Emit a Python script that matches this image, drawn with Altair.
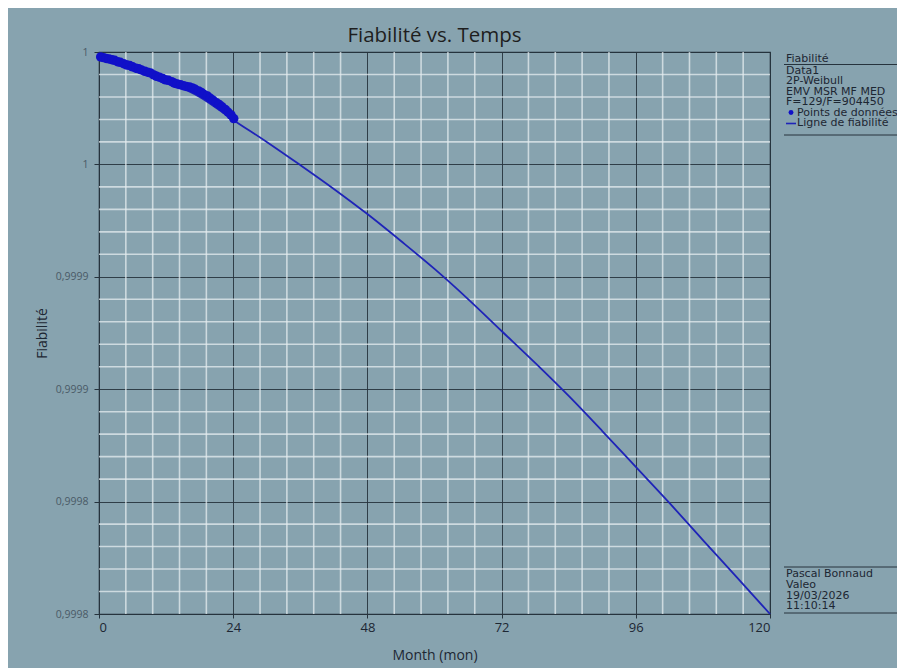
import altair as alt
import pandas as pd

# ---------------- data ----------------
# data points: time (months) and unreliability in ppm
pts_t = [0.3, 0.8, 1.3, 1.8, 2.3, 2.8, 3.3, 3.8, 4.4, 5.0, 5.5, 6.0, 6.6, 7.1, 7.6, 8.2,
         8.7, 9.2, 9.8, 10.3, 10.8, 11.4, 11.9, 12.4, 13.0, 13.5, 14.0, 14.6, 15.1, 15.6,
         16.2, 16.7, 17.2, 17.8, 18.3, 18.8, 19.4, 19.9, 20.4, 21.0, 21.5, 22.0, 22.6,
         23.1, 23.6, 24.1]
pts_ppm = [2.2, 2.5, 2.9, 3.1, 3.4, 3.7, 4.3, 4.6, 5.2, 5.8, 6.0, 6.6, 7.2, 7.5, 8.0, 8.6,
           9.0, 9.3, 10.2, 10.8, 11.2, 11.8, 12.4, 12.6, 13.2, 13.9, 14.2, 14.6, 15.0, 15.3,
           15.6, 16.0, 16.6, 17.3, 18.0, 18.9, 19.6, 20.6, 21.5, 22.6, 23.4, 24.4, 25.6,
           26.8, 28.0, 29.6]

# reliability line: time (months) and unreliability in ppm
line_t = [0, 6, 12, 18, 24, 30, 36, 42, 48, 54, 60, 66, 72, 78, 84, 90, 96, 102, 108, 114, 120]
line_ppm = [2.2, 6.8, 12.8, 20.0, 30.2, 40.0, 50.3, 60.9, 72.1, 84.1, 96.5, 109.9, 124.1,
            138.3, 153.0, 168.6, 184.6, 200.6, 217.1, 233.5, 250.0]

x_major = [0, 24, 48, 72, 96, 120]
x_minor = [4.8, 9.6, 14.4, 19.2, 28.8, 33.6, 38.4, 43.2, 52.8, 57.6, 62.4, 67.2,
           76.8, 81.6, 86.4, 91.2, 100.8, 105.6, 110.4, 115.2]
y_major = [1.0, 0.99995, 0.9999, 0.99985, 0.9998, 0.99975]
y_minor = [0.99999, 0.99998, 0.99997, 0.99996, 0.99994, 0.99993, 0.99992, 0.99991,
           0.99989, 0.99988, 0.99987, 0.99986, 0.99984, 0.99983, 0.99982, 0.99981,
           0.99979, 0.99978, 0.99977, 0.99976]

legend_lines = ["Data1", "2P-Weibull", "EMV MSR MF MED", "F=129/F=904450"]
footer_lines = ["Pascal Bonnaud", "Valeo", "19/03/2026", "11:10:14"]

pts = pd.DataFrame({"t": pts_t, "R": [1 - v / 1e6 for v in pts_ppm]})
line = pd.DataFrame({"t": line_t, "R": [1 - v / 1e6 for v in line_ppm]})

BG = "#87a3af"
DARK = "#26333d"
TXT = "#1d2733"
FONT = "Open Sans"
LFONT = "DejaVu Sans"

xs = alt.Scale(domain=[0, 120], nice=False, zero=False)
ys = alt.Scale(domain=[0.99975, 1.0], nice=False, zero=False)

vminor = alt.Chart(pd.DataFrame({"t": x_minor})).mark_rule(
    color="#e4ecef", strokeWidth=1.6, opacity=0.75
).encode(x=alt.X("t:Q", scale=xs))

hminor = alt.Chart(pd.DataFrame({"R": y_minor})).mark_rule(
    color="#e4ecef", strokeWidth=1.6, opacity=0.75
).encode(y=alt.Y("R:Q", scale=ys))

base_line = alt.Chart(line).mark_line(color="#1f24b8", strokeWidth=1.8,
                                      interpolate="monotone").encode(
    x=alt.X("t:Q", scale=xs,
            axis=alt.Axis(values=x_major, title="Month (mon)", grid=True,
                          gridColor=DARK, gridWidth=1, gridOpacity=0.9,
                          labelFontSize=13, labelFont=FONT, labelColor=TXT,
                          titleFontSize=14, titleFont=FONT, titleColor=TXT,
                          titleFontWeight="normal", labelPadding=3, titlePadding=14,
                          tickSize=4, tickColor=DARK, domainColor=DARK)),
    y=alt.Y("R:Q", scale=ys,
            axis=alt.Axis(values=y_major, title="Fiabilité", grid=True,
                          gridColor=DARK, gridWidth=1, gridOpacity=0.9,
                          labelExpr="replace(format(datum.value, '.4~f'), '.', ',')",
                          labelFontSize=10.5, labelFont=FONT, labelColor="#4a5a66",
                          titleFontSize=14, titleFont=FONT, titleColor=TXT,
                          titleFontWeight="normal", labelPadding=6, titlePadding=6,
                          tickSize=5, tickColor=DARK, domainColor=DARK)),
)

points = alt.Chart(pts).mark_circle(size=90, color="#1010c8", opacity=1).encode(
    x=alt.X("t:Q", scale=xs), y=alt.Y("R:Q", scale=ys)
)

layers = [vminor, hminor, base_line, points]

# ---------- side legend / info block ----------
LX = 687  # relative to the plot area's left edge
def txt(s, x, y, size=11, **kw):
    return alt.Chart(pd.DataFrame({"a": [0]})).mark_text(
        text=s, align="left", baseline="middle", font=LFONT,
        fontSize=size, color=TXT, **kw
    ).encode(x=alt.value(x), y=alt.value(y))

def hrule(x1, x2, y, color=DARK, w=1):
    return alt.Chart(pd.DataFrame({"a": [0]})).mark_rule(color=color, strokeWidth=w).encode(
        x=alt.value(x1), x2=alt.value(x2), y=alt.value(y))

layers.append(txt("Fiabilité", LX, 6.5))
layers.append(hrule(LX - 2, 798, 12.5))
for i, s in enumerate(legend_lines):
    layers.append(txt(s, LX, 18.5 + i * 10.5))
layers.append(alt.Chart(pd.DataFrame({"a": [0]})).mark_circle(size=24, color="#1010c8", opacity=1)
              .encode(x=alt.value(LX + 5), y=alt.value(60.5)))
layers.append(txt("Points de données", LX + 11, 60.5))
layers.append(hrule(LX, LX + 10, 71.5, color="#1f24b8", w=1.6))
layers.append(txt("Ligne de fiabilité", LX + 11, 71))
layers.append(hrule(LX - 2, 798, 83))

layers.append(hrule(LX - 2, 798, 515))
for i, s in enumerate(footer_lines):
    layers.append(txt(s, LX, 522 + i * 10.8))
layers.append(hrule(LX - 2, 798, 561))

chart = alt.layer(*layers).properties(
    width=671, height=562,
    title=alt.TitleParams("Fiabilité vs. Temps", fontSize=20.5, font=FONT,
                          fontWeight="normal", color="#1e1e1e", offset=1, anchor="middle"),
    autosize=alt.AutoSizeParams(type="none"),
    padding={"left": 91, "top": 44, "right": 127, "bottom": 54},
    background=BG,
).configure_view(stroke=DARK, strokeWidth=1.2, fill=BG)

chart.save("out.html", embed_options={"renderer": "svg", "actions": False})
